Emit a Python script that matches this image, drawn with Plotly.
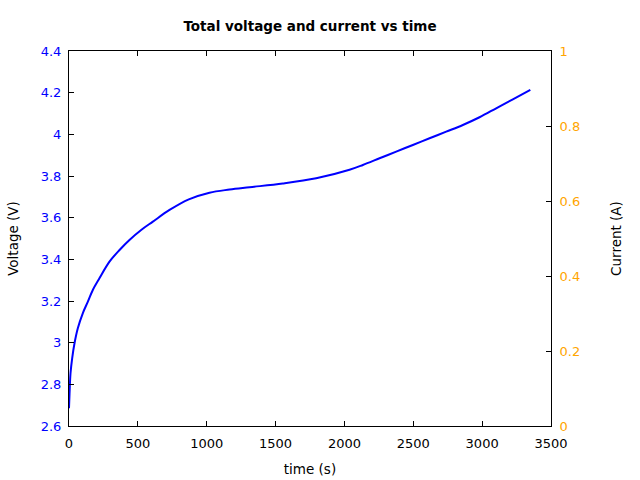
import plotly.graph_objects as go

# Voltage curve
time_s = [0, 4, 11, 23, 40, 64, 100, 137, 173, 221, 294, 367, 439, 524, 609,
          730, 870, 1020, 1166, 1311, 1553, 1795, 2037, 2134, 2255, 2376,
          2497, 2618, 2739, 2860, 2981, 3102, 3223, 3350]
voltage = [2.685, 2.757, 2.853, 2.925, 2.997, 3.069, 3.141, 3.197, 3.253,
           3.309, 3.389, 3.445, 3.493, 3.541, 3.581, 3.637, 3.688, 3.720,
           3.735, 3.746, 3.764, 3.789, 3.830, 3.853, 3.885, 3.917, 3.949,
           3.981, 4.013, 4.045, 4.082, 4.125, 4.168, 4.213]

# Current series is empty in the reference
current_time = []
current = []

font = "DejaVu Sans"

fig = go.Figure()

fig.add_trace(go.Scatter(x=time_s, y=voltage, mode='lines',
                         line=dict(color='#0000ff', width=2, shape='spline', smoothing=1.0),
                         name='Voltage', showlegend=False))

fig.add_trace(go.Scatter(x=current_time, y=current, mode='lines',
                         line=dict(color='#ffa500', width=2),
                         name='Current', yaxis='y2', showlegend=False))

fig.update_layout(
    width=640, height=480,
    margin=dict(l=69, r=89, t=51, b=54),
    plot_bgcolor='white', paper_bgcolor='white',
    font=dict(family=font, size=13, color='black'),
    title=dict(text='<b>Total voltage and current vs time</b>',
               x=310 / 640, xanchor='center',
               y=1 - 26 / 480, yanchor='middle',
               font=dict(size=13.5)),
    xaxis=dict(range=[0, 3500], dtick=500, tick0=0, automargin=False,
               showgrid=False, zeroline=False,
               showline=True, linecolor='black', linewidth=1, mirror='ticks',
               ticks='inside', ticklen=5, tickcolor='black',
               ticklabelstandoff=5,
               title=dict(text='time (s)', font=dict(size=13.5), standoff=14)),
    yaxis=dict(range=[2.6, 4.4], dtick=0.2, tick0=2.6, automargin=False,
               showgrid=False, zeroline=False,
               showline=True, linecolor='black', linewidth=1,
               ticks='inside', ticklen=5, tickcolor='black',
               ticklabelstandoff=4,
               tickfont=dict(color='#0000ff'),
               title=dict(text='Voltage (V)', font=dict(size=13.5), standoff=18)),
    yaxis2=dict(range=[0, 1], dtick=0.2, tick0=0, overlaying='y', side='right',
                automargin=False,
                showgrid=False, zeroline=False,
                showline=True, linecolor='black', linewidth=1,
                ticks='inside', ticklen=5, tickcolor='black',
                ticklabelstandoff=5,
                tickfont=dict(color='#ffa500'),
                title=dict(text='Current (A)', font=dict(size=13.5), standoff=32)),
)

fig.write_html("out.html", config={'displayModeBar': False},
               post_script="document.body.style.margin='0';")
